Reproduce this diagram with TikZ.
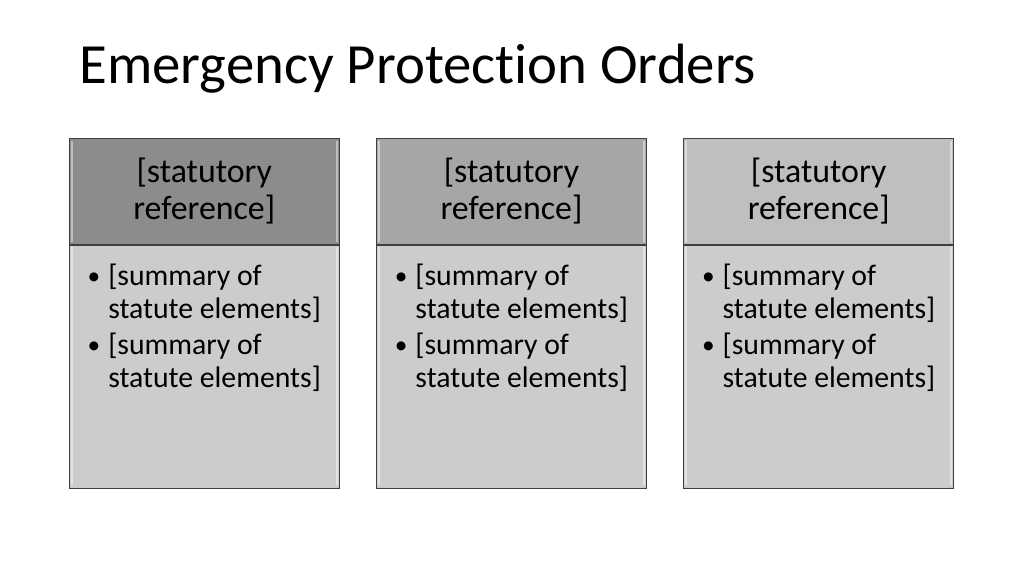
\documentclass[tikz,border=0pt]{standalone}
\usepackage{fontspec}
\setmainfont{Carlito}[Ligatures=NoCommon]
\usetikzlibrary{positioning}

\definecolor{headdark}{gray}{0.55}
\definecolor{headmid}{gray}{0.65}
\definecolor{headlight}{gray}{0.75}
\definecolor{bodygray}{gray}{0.80}
\definecolor{edgegray}{gray}{0.25}

\newcommand{\summaryitem}{\makebox[15pt][l]{\hspace*{-0.5pt}\raisebox{0.6pt}{\fontsize{19}{19}\selectfont\textbullet}}[summary of\\\hspace*{15pt}statute elements]}

\begin{document}
\begin{tikzpicture}[
    node distance = 27.5pt,
    thin,
    ]

    \tikzstyle{bevel}=[
    path picture = {
      \draw[white, opacity=0.45, line width=1.5pt]
        ([xshift=2pt,yshift=-2pt]path picture bounding box.north west) -- ([xshift=2pt,yshift=2pt]path picture bounding box.south west)
        ([xshift=-2pt,yshift=-2pt]path picture bounding box.north east) -- ([xshift=-2pt,yshift=2pt]path picture bounding box.south east);
    },
    ]
    \tikzstyle{header}=[
    draw = edgegray,
    bevel,
    minimum width = 202.5pt,
    minimum height = 79.5pt,
    inner sep = 0pt,
    align = center,
    font = \fontsize{25.4}{27.75}\selectfont,
    ]
    \tikzstyle{panel}=[
    draw = edgegray,
    fill = bodygray,
    bevel,
    minimum width = 202.5pt,
    minimum height = 182.25pt,
    inner sep = 0pt,
    ]
    \tikzstyle{items}=[
    inner sep = 0pt,
    align = left,
    anchor = north west,
    font = \fontsize{22.3}{24.75}\selectfont,
    ]

    \useasboundingbox (0,0) rectangle (768pt,-432pt);

    \node[anchor=base west, font=\fontsize{42.6}{48}\selectfont] (title) at (56pt,-62.25pt) {Emergency Protection Orders};

    \node[header, fill=headdark, anchor=north west] (ref1) at (51.75pt,-103.5pt) {[statutory\\reference]};
    \node[header, fill=headmid] (ref2) [right=of ref1] {[statutory\\reference]};
    \node[header, fill=headlight] (ref3) [right=of ref2] {[statutory\\reference]};

    \node[panel] (sum1) [below=0pt of ref1] {};
    \node[panel] (sum2) [below=0pt of ref2] {};
    \node[panel] (sum3) [below=0pt of ref3] {};

    \node[items, xshift=14.25pt, yshift=-14.2pt] (list1) at (sum1.north west) {\summaryitem\\[2.25pt]\summaryitem};
    \node[items, xshift=14.25pt, yshift=-14.2pt] (list2) at (sum2.north west) {\summaryitem\\[2.25pt]\summaryitem};
    \node[items, xshift=14.25pt, yshift=-14.2pt] (list3) at (sum3.north west) {\summaryitem\\[2.25pt]\summaryitem};
  \end{tikzpicture}
\end{document}
